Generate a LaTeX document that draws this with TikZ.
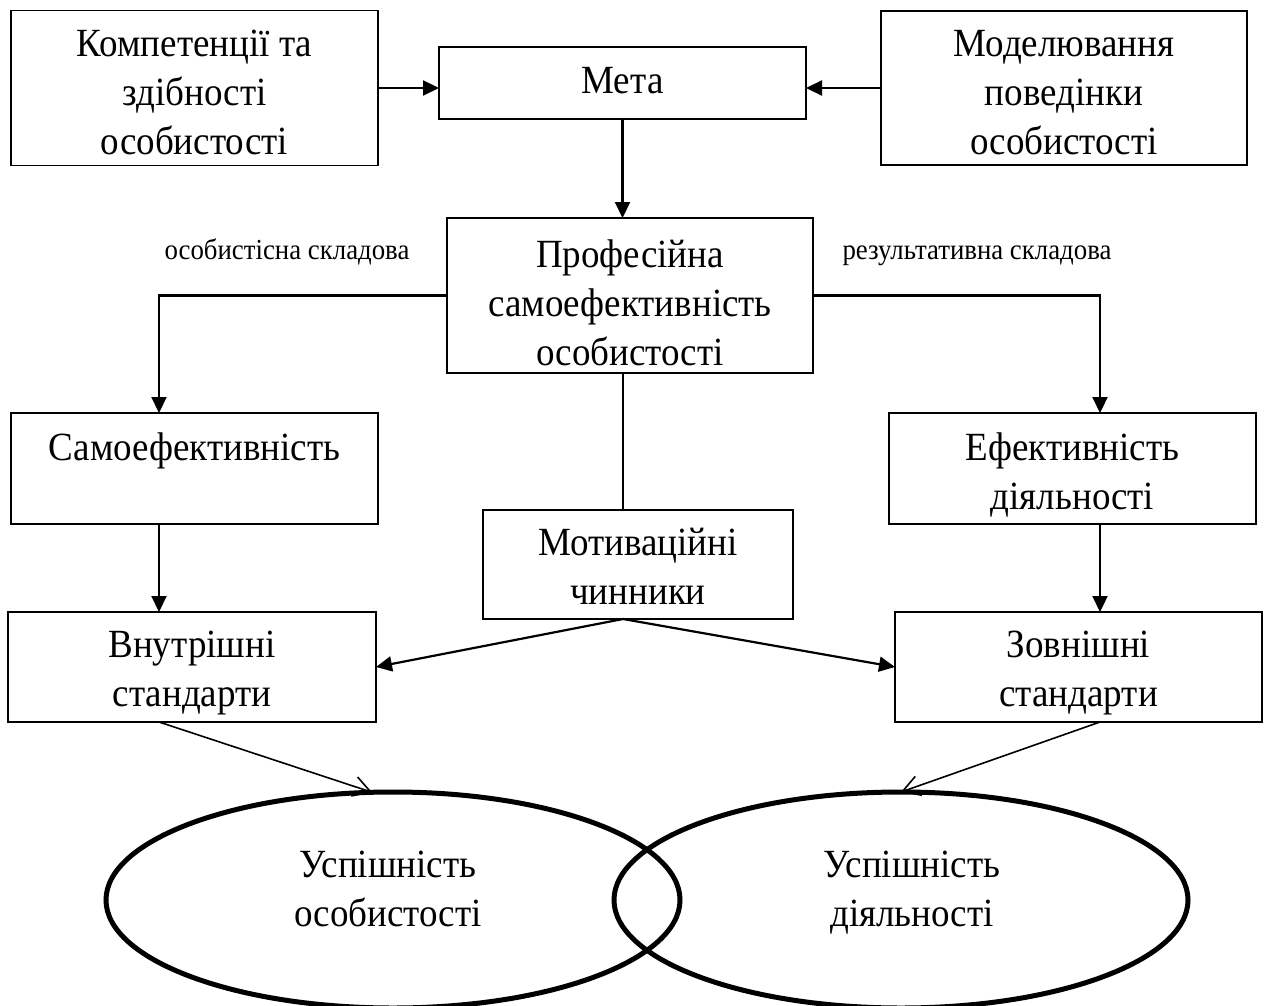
\documentclass[tikz,border=0pt]{standalone}
\usepackage{fontspec}
\setmainfont{Liberation Serif}[FakeStretch=0.925]
\usetikzlibrary{arrows.meta,shapes.geometric,backgrounds}
\newcommand\bxt[4]{\parbox[c][#2][t]{#1}{\centering\rule{0pt}{#3}#4}}
\tikzset{
  box/.style={draw, line width=1.9pt, rectangle, inner sep=0pt, outer sep=0pt,
    font=\fontsize{40}{49}\selectfont},
  oval/.style={draw, line width=5pt, ellipse, inner sep=0pt, outer sep=0pt,
    minimum width=574pt, minimum height=216pt, font=\fontsize{40}{49}\selectfont},
  lbl/.style={inner sep=0pt, font=\fontsize{29}{34}\selectfont},
  arr/.style={line width=2.2pt, -{Triangle[length=16pt,width=15pt]}},
  thin/.style={line width=1.8pt},
  barb/.style={line width=1.6pt, -{Straight Barb[length=17pt,width=20pt]}}
}
\begin{document}
\begin{tikzpicture}[x=1pt,y=-1pt]
\useasboundingbox (0,0) rectangle (1266,1006);
\coordinate (colL) at (159,0);
\coordinate (colM) at (623,0);
\coordinate (colR) at (1100,0);
% boxes
\node[box] (komp) at (194.5,88) {\bxt{367pt}{155pt}{46pt}{Компетенції та\\здібності\\особистості}};
\node[box] (meta) at (622.5,83) {\bxt{367pt}{72pt}{47pt}{Мета}};
\node[box] (model) at (1064,88) {\bxt{366pt}{154pt}{46pt}{Моделювання\\поведінки\\особистості}};
\node[box] (prof) at (630,295.5) {\bxt{366pt}{155pt}{49pt}{Професійна\\самоефективність\\особистості}};
\node[box] (samo) at (194.5,468.5) {\bxt{367pt}{111pt}{47pt}{Самоефективність}};
\node[box] (efekt) at (1072.5,468.5) {\bxt{367pt}{111pt}{47pt}{Ефективність\\діяльності}};
\node[box] (motiv) at (638,564.5) {\bxt{310pt}{109pt}{45pt}{Мотиваційні\\чинники}};
\node[box] (vnutr) at (192,667) {\bxt{368pt}{110pt}{45pt}{Внутрішні\\стандарти}};
\node[box] (zovn) at (1078.5,667) {\bxt{367pt}{110pt}{45pt}{Зовнішні\\стандарти}};
% ellipses
\node[oval] (e1) at (393,900) {\bxt{300pt}{150pt}{52pt}{\hspace*{-10pt}Успішність\\\hspace*{-10pt}особистості}};
\node[oval] (e2) at (901,900) {\bxt{300pt}{150pt}{52pt}{\hspace*{22pt}Успішність\\\hspace*{22pt}діяльності}};
% labels
\node[lbl, anchor=base] (l1) at (287,259) {особистісна складова};
\node[lbl, anchor=base] (l2) at (977,259) {результативна складова};
% connectors
\draw[arr] (komp.east) -- (komp.east -| meta.west);
\draw[arr] (model.west) -- (model.west -| meta.east);
\draw[arr] (meta.south) -- (meta.south |- prof.north);
\draw[arr] (prof.west) -| (samo.north -| colL);
\draw[arr] (prof.east) -| (efekt.north -| colR);
\draw[thin] (prof.south -| colM) -- (motiv.north -| colM);
\draw[arr] (samo.south -| colL) -- (vnutr.north -| colL);
\draw[arr] (efekt.south -| colR) -- (zovn.north -| colR);
\draw[arr] (motiv.south -| colM) -- (vnutr.east);
\draw[arr] (motiv.south -| colM) -- (zovn.west);
\begin{pgfonlayer}{background}
\draw[barb] (vnutr.south -| colL) -- (e1.101.5);
\draw[barb] (zovn.south -| colR) -- (e2.north);
\end{pgfonlayer}
\end{tikzpicture}
\end{document}
